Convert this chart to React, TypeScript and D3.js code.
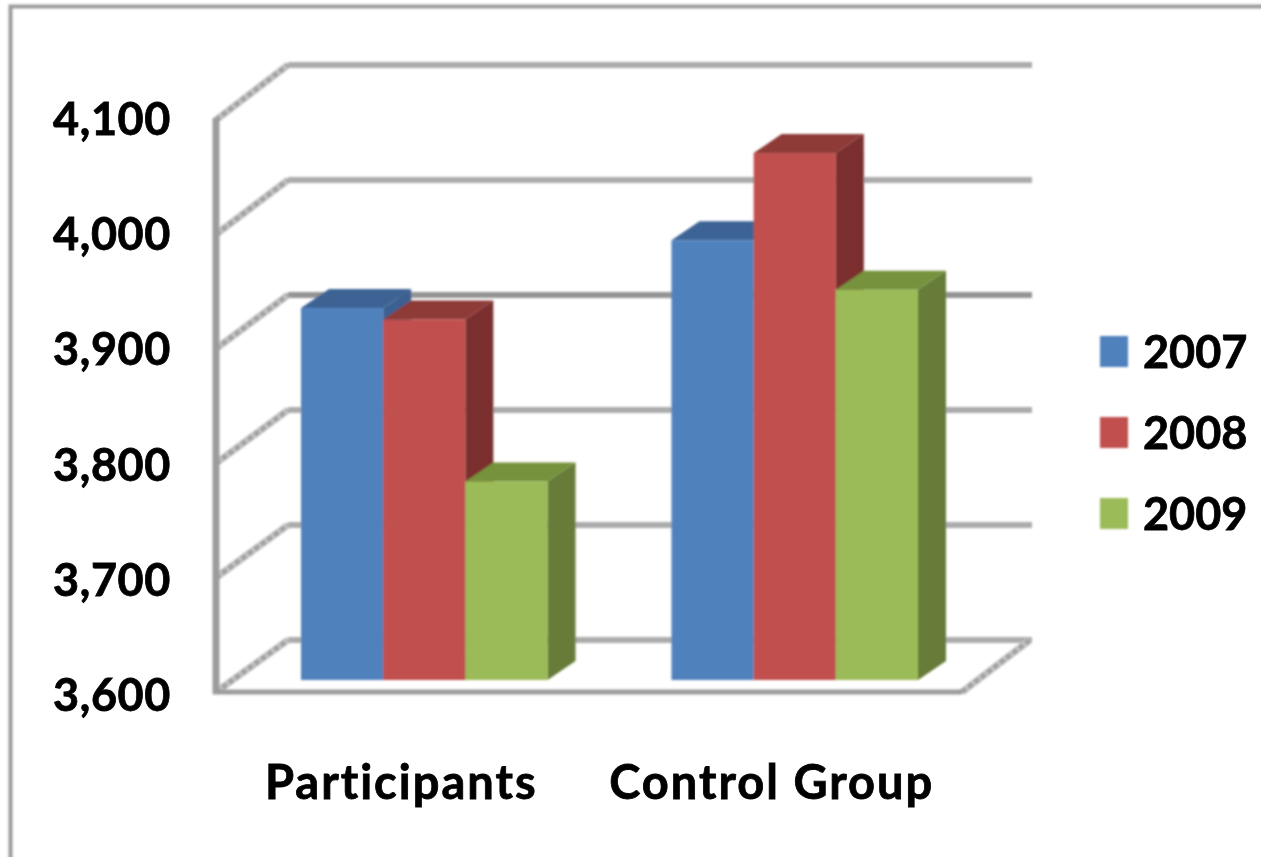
import React from "react";
import * as d3 from "d3";

const categories = ["Participants", "Control Group"];
const seriesNames = ["2007", "2008", "2009"];
const values2007 = [3924, 3983];
const values2008 = [3914, 4059];
const values2009 = [3773, 3940];
const seriesValues = [values2007, values2008, values2009];
const frontColors = ["#4f81bd", "#c0504d", "#9bbb59"];
const topColors = ["#3c6495", "#8e3a37", "#76923c"];
const sideColors = ["#3a6191", "#7a2f2d", "#667b37"];
const tickValues = [3600, 3700, 3800, 3900, 4000, 4100];

const W = 1261;
const H = 857;
const FONT = "Lato, Carlito, 'Open Sans', sans-serif";

export default function App() {
  const domain: [number, number] = [3600, 4100];
  const yFront = d3.scaleLinear().domain(domain).range([692, 120]);
  const yBack = d3.scaleLinear().domain(domain).range([640, 65]);
  const yBar = d3.scaleLinear().domain(domain).range([680, 106]);
  const yLabel = d3.scaleLinear().domain(domain).range([711, 135]);
  const xWall = d3.scaleLinear().domain([0, 1]).range([216, 962]);
  const xBand = d3.scaleBand<string>().domain(categories).range([239.5, 980.5]);
  const groupWidth = 246.5;
  const xInner = d3
    .scaleBand<string>()
    .domain(seriesNames)
    .range([(xBand.bandwidth() - groupWidth) / 2 - 0.5, (xBand.bandwidth() + groupWidth) / 2 - 0.5]);
  const depthX = 28;
  const depthY = 19;
  const wallDX = 72;
  const line = d3.line();
  const fmt = d3.format(",");

  const diag = (key: string, a: [number, number], b: [number, number]) => (
    <g key={key}>
      <path d={line([a, b]) as string} stroke="#c4c4c4" strokeWidth={7} fill="none" />
      <path
        d={line([a, b]) as string}
        stroke="#a0a0a0"
        strokeWidth={5}
        strokeDasharray="5 3"
        fill="none"
      />
    </g>
  );

  return (
    <svg
      width={W}
      height={H}
      style={{ position: "absolute", left: 0, top: 0, background: "#fff" }}
    >
      <defs>
        <filter id="soft" x="-5%" y="-5%" width="110%" height="110%">
          <feGaussianBlur stdDeviation="0.8" />
        </filter>
        <filter id="softText" x="-5%" y="-5%" width="110%" height="110%">
          <feGaussianBlur stdDeviation="0.5" />
        </filter>
      </defs>
      <g filter="url(#soft)">
        {/* outer frame */}
        <path d={`M10.5,${H + 5}V6.5H${W + 5}`} fill="none" stroke="#9c9c9c" strokeWidth={4} />

        {/* back wall gridlines */}
        {tickValues.map((t) => (
          <line
            key={`g${t}`}
            x1={xWall(0) + wallDX}
            x2={1032}
            y1={yBack(t)}
            y2={yBack(t)}
            stroke={t === 3900 ? "#949494" : "#acacac"}
            strokeWidth={6}
          />
        ))}
        {/* side wall diagonals */}
        {tickValues.map((t) =>
          diag(`d${t}`, [xWall(0), yFront(t)], [xWall(0) + wallDX, yBack(t)])
        )}
        {/* floor right diagonal */}
        {diag("floor", [xWall(1), yFront(3600)], [1030, yBack(3600)])}
        {/* front axis */}
        <line x1={xWall(0)} x2={xWall(0)} y1={yFront(4100) - 2} y2={yFront(3600) + 2} stroke="#9c9c9c" strokeWidth={7} />
        <line x1={xWall(0) - 3} x2={xWall(1)} y1={yFront(3600)} y2={yFront(3600)} stroke="#9c9c9c" strokeWidth={5} />

        {/* bars */}
        {seriesNames.map((s, si) =>
          categories.map((c, ci) => {
            const x0 = (xBand(c) as number) + (xInner(s) as number);
            const x1 = x0 + xInner.bandwidth();
            const yT = yBar(seriesValues[si][ci]);
            const yB = yBar(3600);
            return (
              <g key={`${s}-${c}`}>
                <path
                  d={`M${x1},${yT}L${x1 + depthX},${yT - depthY}V${yB - depthY}L${x1},${yB}Z`}
                  fill={sideColors[si]}
                />
                <path
                  d={`M${x0},${yT}L${x0 + depthX},${yT - depthY}H${x1 + depthX}L${x1},${yT}Z`}
                  fill={topColors[si]}
                />
                <rect x={x0} y={yT} width={x1 - x0} height={yB - yT} fill={frontColors[si]} />
              </g>
            );
          })
        )}

        {/* legend */}
        {seriesNames.map((s, i) => (
          <rect key={`l${s}`} x={1100} y={336 + i * 81} width={28} height={31} fill={frontColors[i]} />
        ))}
      </g>

      <g filter="url(#softText)" stroke="#000" strokeWidth={0.8}>
        {/* y tick labels */}
        {tickValues.map((t) => (
          <text
            key={`t${t}`}
            x={171}
            y={yLabel(t)}
            textAnchor="end"
            fontFamily={FONT}
            fontWeight={700}
            fontSize={45}
            letterSpacing={0.6}
            fill="#000"
          >
            {fmt(t)}
          </text>
        ))}
        {/* category labels */}
        {categories.map((c) => (
          <text
            key={c}
            x={(xBand(c) as number) + xBand.bandwidth() / 2 - 23.5}
            y={799}
            textAnchor="middle"
            fontFamily={FONT}
            fontWeight={700}
            fontSize={47}
            letterSpacing={2}
            fill="#000"
          >
            {c}
          </text>
        ))}
        {/* legend labels */}
        {seriesNames.map((s, i) => (
          <text
            key={`lt${s}`}
            x={1143}
            y={368 + i * 81}
            fontFamily={FONT}
            fontWeight={700}
            fontSize={45}
            fill="#000"
          >
            {s}
          </text>
        ))}
      </g>
    </svg>
  );
}
